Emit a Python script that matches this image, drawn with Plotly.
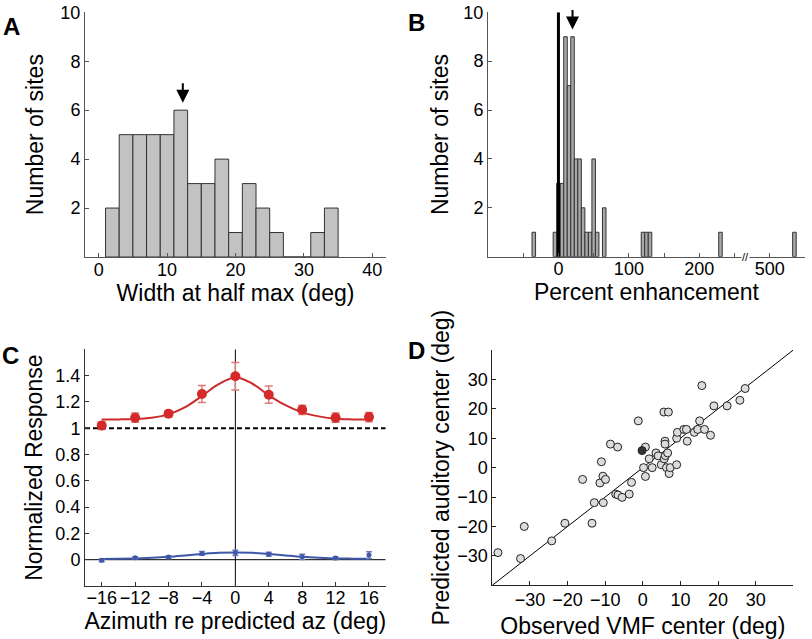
import plotly.graph_objects as go

W, H = 812, 639
FONT = "Liberation Sans, Arial, Helvetica, sans-serif"

# ---------- Panel A data ----------
a_bin_centers = [2, 4, 6, 8, 10, 12, 14, 16, 18, 20, 22, 24, 26, 28, 30, 32, 34]
a_counts = [2, 5, 5, 5, 5, 6, 3, 3, 4, 1, 3, 2, 1, 0, 0, 1, 2]
a_arrow_x = 12.3

# ---------- Panel B data ----------
b_bin_centers = [-35, -5, 0, 5, 10, 15, 20, 25, 30, 35, 40, 45, 50, 55, 65, 120, 125, 130, 230, 535]
b_counts = [1, 1, 3, 3, 9, 7, 9, 4, 4, 2, 1, 1, 4, 1, 2, 1, 1, 1, 1, 1]
b_tick_values = [-50, 0, 50, 100, 150, 200, 250, 500, 550]
b_tick_labels = ["", "0", "", "100", "", "200", "", "500", ""]
b_arrow_x = 20
B_BREAK, B_SHIFT = 260, 200  # values above the axis break are shifted left


def b_pos(v):
    return v if v < B_BREAK else v - B_SHIFT


# ---------- Panel C data ----------
c_az = [-16, -12, -8, -4, 0, 4, 8, 12, 16]
c_red_mean = [1.02, 1.08, 1.11, 1.26, 1.395, 1.255, 1.14, 1.08, 1.085]
c_red_err = [0.03, 0.035, 0.025, 0.065, 0.105, 0.065, 0.035, 0.035, 0.035]
c_blue_mean = [-0.005, 0.015, 0.02, 0.048, 0.052, 0.042, 0.022, 0.012, 0.035]
c_blue_err = [0.01, 0.008, 0.01, 0.015, 0.02, 0.015, 0.02, 0.01, 0.025]
c_fit_x = [-16, -14, -12, -10, -8, -6, -4, -2, 0, 2, 4, 6, 8, 10, 12, 14, 16]
c_red_fit = [1.066, 1.067, 1.07, 1.08, 1.105, 1.16, 1.245, 1.335, 1.385, 1.34, 1.25, 1.175, 1.12, 1.09, 1.072, 1.067, 1.066]
c_blue_fit = [0.005, 0.007, 0.01, 0.015, 0.022, 0.032, 0.043, 0.052, 0.055, 0.052, 0.043, 0.032, 0.022, 0.015, 0.01, 0.008, 0.007]
c_yticks = [0, 0.2, 0.4, 0.6, 0.8, 1, 1.2, 1.4]
c_yticklabels = ["0", "0.2", "0.4", "0.6", "0.8", "1", "1.2", "1.4"]

# ---------- Panel D data ----------
d_observed = [-38.5, -32.5, -31.5, -24.2, -20.7, -16.0, -13.5, -12.9, -11.4, -11.0, -10.6, -10.5,
              -9.9, -8.6, -7.2, -6.7, -6.6, -5.5, -3.6, -3.0, -1.2, 0.2, 0.7, 0.7, 1.7, 2.5,
              3.5, 4.1, 4.9, 5.6, 5.7, 5.9, 5.9, 6.0, 6.3, 6.6, 6.8, 7.0, 7.3, 9.0, 9.0, 9.2,
              10.9, 11.6, 11.8, 13.7, 14.6, 15.1, 15.7, 16.4, 18.0, 18.9, 22.4, 25.8, 27.2]
d_predicted = [-28.9, -30.9, -20.0, -24.9, -18.9, -4.0, -18.9, -11.9, -5.2, 2.0, -2.9, -11.9,
               -4.0, 8.0, -9.0, 7.0, -9.3, -10.1, -9.0, -5.0, 15.9, 0.0, 7.0, -3.0, 3.0, 0.0,
               5.0, 4.0, 1.0, 18.9, 3.0, 9.0, 8.0, 4.1, 0.0, 5.0, 18.9, -2.0, 0.0, 1.0, 10.0, 12.0,
               13.0, 13.0, 9.0, 12.0, 13.0, 15.9, 27.9, 13.0, 11.0, 21.0, 21.0, 22.9, 26.9]
d_filled_obs = [-0.2]
d_filled_pred = [5.8]
d_unity = [-40, 40]


def px_x(p):
    return p / W


def px_y(p):
    return 1 - p / H


fig = go.Figure()

# Panel A
fig.add_trace(go.Bar(x=a_bin_centers, y=a_counts, width=2, xaxis="x", yaxis="y",
                     marker=dict(color="#c2c2c2", line=dict(color="#333333", width=1)),
                     showlegend=False))

# Panel B
b_x = [b_pos(v) for v in b_bin_centers]
b_colors = ["#000000" if v == 0 else "#a8a8a8" for v in b_bin_centers]
fig.add_trace(go.Bar(x=b_x, y=b_counts, width=5, xaxis="x2", yaxis="y2",
                     marker=dict(color=b_colors, line=dict(color="#333333", width=1)),
                     showlegend=False))
fig.add_trace(go.Scatter(x=[0, 0], y=[0, 10], mode="lines", xaxis="x2", yaxis="y2",
                         line=dict(color="black", width=3), showlegend=False))

# Panel C
fig.add_trace(go.Scatter(x=[-18, 18], y=[1, 1], mode="lines", xaxis="x3", yaxis="y3",
                         line=dict(color="black", width=2, dash="5px,3px"), showlegend=False))
fig.add_trace(go.Scatter(x=[-18, 18], y=[0, 0], mode="lines", xaxis="x3", yaxis="y3",
                         line=dict(color="black", width=1), showlegend=False))
fig.add_trace(go.Scatter(x=[0, 0], y=[-0.2, 1.6], mode="lines", xaxis="x3", yaxis="y3",
                         line=dict(color="black", width=1), showlegend=False))
fig.add_trace(go.Scatter(x=c_fit_x, y=c_red_fit, mode="lines", line_shape="spline",
                         xaxis="x3", yaxis="y3", line=dict(color="#cc2b2b", width=2),
                         showlegend=False))
fig.add_trace(go.Scatter(x=c_az, y=c_red_mean, mode="markers", xaxis="x3", yaxis="y3",
                         marker=dict(color="#d42a2a", size=10),
                         error_y=dict(type="data", array=c_red_err, color="#dd7b76",
                                      thickness=1.5, width=4),
                         showlegend=False))
fig.add_trace(go.Scatter(x=c_fit_x, y=c_blue_fit, mode="lines", line_shape="spline",
                         xaxis="x3", yaxis="y3", line=dict(color="#3f57a8", width=2),
                         showlegend=False))
fig.add_trace(go.Scatter(x=c_az, y=c_blue_mean, mode="markers", xaxis="x3", yaxis="y3",
                         marker=dict(color="#3f57a8", size=5),
                         error_y=dict(type="data", array=c_blue_err, color="#6c7fc0",
                                      thickness=1.5, width=3),
                         showlegend=False))

# Panel D
fig.add_trace(go.Scatter(x=d_unity, y=d_unity, mode="lines", xaxis="x4", yaxis="y4",
                         line=dict(color="black", width=1), showlegend=False))
fig.add_trace(go.Scatter(x=d_observed, y=d_predicted, mode="markers", xaxis="x4", yaxis="y4",
                         marker=dict(color="#dcdcdc", size=8, line=dict(color="#222222", width=1)),
                         showlegend=False))
fig.add_trace(go.Scatter(x=d_filled_obs, y=d_filled_pred, mode="markers", xaxis="x4", yaxis="y4",
                         marker=dict(color="#333333", size=8, line=dict(color="#222222", width=1)),
                         showlegend=False))

TICKFONT = dict(family=FONT, size=18, color="black")
TITLEFONT = dict(family=FONT, size=23, color="black")


def axis(domain, rng, color, **kw):
    d = dict(domain=domain, range=rng, showgrid=False, zeroline=False, showline=True,
             linecolor=color, linewidth=1, ticks="inside", ticklen=4, tickcolor=color,
             tickfont=TICKFONT, mirror=False, fixedrange=True, automargin=False)
    d.update(kw)
    return d


A_X = [px_x(85), px_x(386)]
A_Y = [px_y(257), px_y(12.3)]
B_X = [px_x(488), px_x(805)]
B_Y = [px_y(256.7), px_y(12.3)]
C_X = [px_x(85), px_x(385.7)]
C_Y = [px_y(586), px_y(349.3)]
D_X = [px_x(492.3), px_x(793.3)]
D_Y = [px_y(585.3), px_y(350)]

fig.update_layout(
    width=W, height=H, margin=dict(l=0, r=0, t=0, b=0, autoexpand=False),
    paper_bgcolor="white", plot_bgcolor="white", bargap=0,
    font=dict(family=FONT, color="black"),
    xaxis=axis(A_X, [-2, 42], "#555555", anchor="y", tickvals=[0, 10, 20, 30, 40],
               ticklabelstandoff=-4,
               title=dict(text="Width at half max (deg)", font=TITLEFONT, standoff=3)),
    yaxis=axis(A_Y, [0, 10], "#555555", anchor="x", tickvals=[2, 4, 6, 8, 10],
               title=dict(text="Number of sites", font=TITLEFONT, standoff=10)),
    xaxis2=axis(B_X, [-100, 350], "#555555", anchor="y2",
                tickvals=[b_pos(v) for v in b_tick_values], ticktext=b_tick_labels,
                ticklabelstandoff=-4,
                title=dict(text="Percent enhancement", font=TITLEFONT, standoff=5)),
    yaxis2=axis(B_Y, [0, 10], "#555555", anchor="x2", tickvals=[2, 4, 6, 8, 10],
                title=dict(text="Number of sites", font=TITLEFONT, standoff=8)),
    xaxis3=axis(C_X, [-18, 18], "#333333", anchor="y3", tickvals=c_az,
                ticklabelstandoff=-5,
                title=dict(text="Azimuth re predicted az (deg)", font=TITLEFONT, standoff=0)),
    yaxis3=axis(C_Y, [-0.2, 1.6], "#333333", anchor="x3", tickvals=c_yticks,
                ticktext=c_yticklabels,
                title=dict(text="Normalized Response", font=TITLEFONT, standoff=6)),
    xaxis4=axis(D_X, [-40, 40], "#222222", anchor="y4", tickvals=[-30, -20, -10, 0, 10, 20, 30],
                ticklabelstandoff=-2,
                title=dict(text="Observed VMF center (deg)", font=TITLEFONT, standoff=12)),
    yaxis4=axis(D_Y, [-40, 40], "#222222", anchor="x4", tickvals=[-30, -20, -10, 0, 10, 20, 30],
                title=dict(text="Predicted auditory center (deg)", font=TITLEFONT, standoff=1)),
)

# Panel letters
for letter, cx, cy in [("A", 11.3, 26.5), ("B", 416.5, 23), ("C", 10, 355), ("D", 416, 350)]:
    fig.add_annotation(x=px_x(cx), y=px_y(cy), xref="paper", yref="paper", text="<b>%s</b>" % letter,
                       showarrow=False, xanchor="center", yanchor="middle",
                       font=dict(family=FONT, size=24, color="black"))

# Arrows marking medians
fig.add_annotation(x=a_arrow_x, y=6.3, xref="x", yref="y", text="", showarrow=True,
                   ax=0, ay=-21, arrowhead=2, arrowsize=1.3, arrowwidth=2, arrowcolor="black")
fig.add_annotation(x=b_arrow_x, y=9.3, xref="x2", yref="y2", text="", showarrow=True,
                   ax=0, ay=-21, arrowhead=2, arrowsize=1.3, arrowwidth=2, arrowcolor="black")

# Axis break marker in panel B
fig.add_annotation(x=(B_BREAK + 5 + 300) / 2 - 17, y=0, xref="x2", yref="y2", text="//",
                   showarrow=False, xanchor="center", yanchor="middle", bgcolor="white",
                   font=dict(family=FONT, size=11, color="black"), borderpad=0)

fig.write_html("out.html", config={"displayModeBar": False, "staticPlot": True},
               post_script="document.body.style.margin='0';document.body.style.padding='0';")
